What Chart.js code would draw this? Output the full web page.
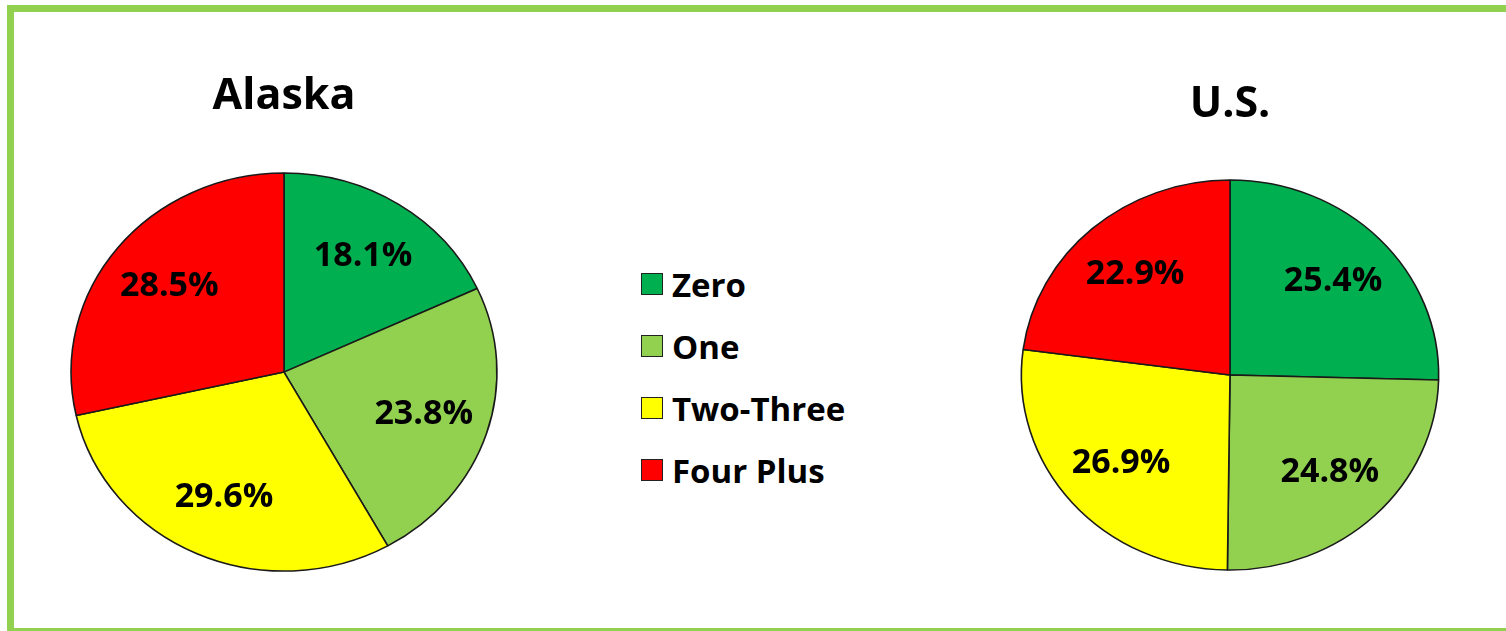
<!DOCTYPE html>
<html>
<head>
<meta charset="utf-8">
<title>Household vehicles – Alaska vs U.S.</title>
<script src="https://cdn.jsdelivr.net/npm/chart.js@4.4.1/dist/chart.umd.min.js"></script>
<style>
  html, body { margin: 0; padding: 0; width: 1506px; height: 631px; overflow: hidden; background: #fff; }
  #frame { position: absolute; left: 7px; top: 5px; width: 1506px; height: 630px; border: 7px solid #92d050; box-sizing: border-box; }
  .wrap { position: absolute; top: 0; height: 631px; }
  #alaskaWrap { left: 0; width: 570px; }
  #usWrap { left: 980px; width: 500px; }
  #legend { position: absolute; left: 641px; top: 253px; margin: 0; padding: 0; list-style: none;
            font: bold 33px "Open Sans", sans-serif; color: #000; }
  #legend li { height: 62px; display: flex; align-items: center; }
  #legend span.box { width: 20px; height: 20px; border: 1.5px solid #222; margin-right: 9px; flex: none; }
</style>
</head>
<body>
<div id="frame"></div>
<div class="wrap" id="alaskaWrap"><canvas id="alaskaChart"></canvas></div>
<ul id="legend"></ul>
<div class="wrap" id="usWrap"><canvas id="usChart"></canvas></div>

<script>
const categories = ['Zero', 'One', 'Two-Three', 'Four Plus'];
const alaskaValues = [18.1, 23.8, 29.6, 28.5];
const usValues = [25.4, 24.8, 26.9, 22.9];

const sliceColors = ['#00b050', '#92d050', '#ffff00', '#ff0000'];
const STRETCH = 1.07;      // pies are drawn slightly wider than tall
const LABEL_POS = 0.69;    // label distance from centre, as share of radius

// widen the arcs horizontally, then write the percentages on top
const ovalPie = {
    id: 'ovalPie',
    beforeDatasetsDraw(chart) {
        const arc = chart.getDatasetMeta(0).data[0];
        const ctx = chart.ctx;
        ctx.save();
        ctx.translate(arc.x, arc.y);
        ctx.scale(STRETCH, 1);
        ctx.translate(-arc.x, -arc.y);
    },
    afterDatasetsDraw(chart) {
        const ctx = chart.ctx;
        ctx.restore();
        const values = chart.data.datasets[0].data;
        ctx.save();
        ctx.font = 'bold 34px "Open Sans", sans-serif';
        ctx.fillStyle = '#000';
        ctx.textAlign = 'center';
        ctx.textBaseline = 'middle';
        chart.getDatasetMeta(0).data.forEach((arc, i) => {
            const p = arc.getProps(['x', 'y', 'startAngle', 'endAngle', 'outerRadius'], true);
            const mid = (p.startAngle + p.endAngle) / 2;
            const r = p.outerRadius * LABEL_POS;
            ctx.fillText(values[i].toFixed(1) + '%', p.x + Math.cos(mid) * r * STRETCH, p.y + Math.sin(mid) * r);
        });
        ctx.restore();
    }
};

function makePie(canvasId, title, values, radius, titleTop, padBottom, padRight) {
    return new Chart(document.getElementById(canvasId), {
        type: 'pie',
        data: {
            labels: categories,
            datasets: [{
                data: values,
                backgroundColor: sliceColors,
                borderColor: '#1a1a1a',
                borderWidth: 1.5,
                radius: radius
            }]
        },
        options: {
            responsive: true,
            maintainAspectRatio: false,
            animation: false,
            layout: { padding: { top: 0, left: 0, right: padRight, bottom: padBottom } },
            plugins: {
                legend: { display: false },
                tooltip: { enabled: false },
                title: {
                    display: true,
                    text: title,
                    color: '#000',
                    font: { family: 'Open Sans', weight: 'bold', size: 43 },
                    padding: { top: titleTop, bottom: 0 }
                }
            }
        },
        plugins: [ovalPie]
    });
}

const alaskaChart = makePie('alaskaChart', 'Alaska', alaskaValues, 199, 71, 9.4, 2);
makePie('usChart', 'U.S.', usValues, 195, 79, 11.4, 0);

// shared legend, built from the chart's own legend items
const legendList = document.getElementById('legend');
alaskaChart.options.plugins.legend.labels.generateLabels(alaskaChart).forEach(item => {
    const li = document.createElement('li');
    const box = document.createElement('span');
    box.className = 'box';
    box.style.background = item.fillStyle;
    li.appendChild(box);
    li.appendChild(document.createTextNode(item.text));
    legendList.appendChild(li);
});
</script>
</body>
</html>
